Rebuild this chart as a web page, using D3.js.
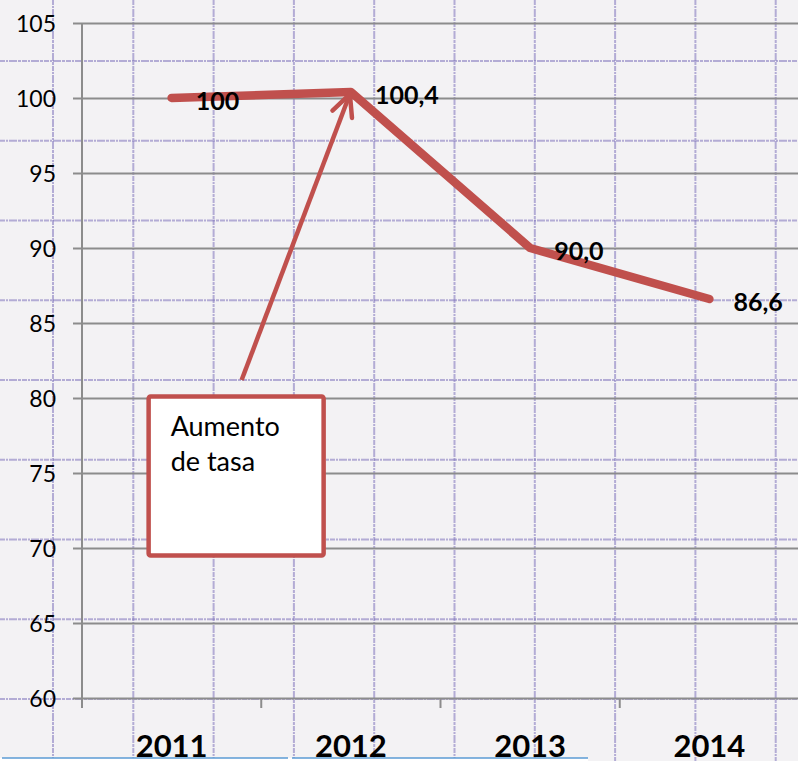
<!DOCTYPE html>
<html><head><meta charset="utf-8">
<script src="https://cdn.jsdelivr.net/npm/d3@7"></script>
<style>html,body{margin:0;padding:0;background:#f3f2f4;}svg{display:block;}</style>
</head><body>
<svg id="c" width="798" height="761"></svg>
<script>
const categories = ["2011", "2012", "2013", "2014"];
const values = [100, 100.4, 90.0, 86.6];
const valueLabels = ["100", "100,4", "90,0", "86,6"];
const yTicks = [60, 65, 70, 75, 80, 85, 90, 95, 100, 105];
const annotationText = ["Aumento", "de tasa"];

(function () {
const W = 798, H = 761;
const svg = d3.select("#c");
const red = "#c0504d";

// background graph-paper texture
svg.append("rect").attr("width", W).attr("height", H).attr("fill", "#f3f2f4");
const paper = svg.append("g").attr("stroke", "#7d72bb").attr("stroke-opacity", 0.55)
  .attr("stroke-width", 2).attr("stroke-dasharray", "5 1 2 1 8 1 3 1");
d3.range(0, 10).forEach(i => {
  const xx = 53 + 80.3 * i;
  paper.append("line").attr("x1", xx).attr("x2", xx).attr("y1", 0).attr("y2", H);
});
d3.range(0, 9).forEach(j => {
  const yy = 61 + 79.75 * j;
  paper.append("line").attr("y1", yy).attr("y2", yy).attr("x1", 0).attr("x2", W);
});

const mLeft = 82, mRight = 799, mTop = 23, mBottom = 698;
const x = d3.scaleBand().domain(categories).range([mLeft, mRight]).padding(0);
const y = d3.scaleLinear().domain([60, 105]).range([mBottom, mTop]);
const xc = c => x(c) + x.bandwidth() / 2;

// gridlines + y axis
const yAxis = d3.axisLeft(y).tickValues(yTicks).tickSize(-(W - mLeft)).tickSizeOuter(0).tickPadding(17);
const gy = svg.append("g").attr("transform", `translate(${mLeft},0)`).call(yAxis);
gy.select(".domain").remove();
gy.selectAll(".tick line").attr("stroke", "#8c8c8c").attr("stroke-width", 2).attr("x1", -9);
gy.selectAll(".tick text").attr("font-family", "Lato, 'Open Sans', sans-serif")
  .attr("font-size", 23).attr("fill", "#000").attr("x", -26).attr("dy", "0.36em");
svg.append("line").attr("x1", mLeft).attr("x2", mLeft).attr("y1", mTop).attr("y2", mBottom + 10)
  .attr("stroke", "#8c8c8c").attr("stroke-width", 2);

// x axis ticks at band boundaries
const gx = svg.append("g");
categories.forEach(c => {
  gx.append("line").attr("x1", x(c)).attr("x2", x(c)).attr("y1", mBottom).attr("y2", mBottom + 10)
    .attr("stroke", "#8c8c8c").attr("stroke-width", 2);
});
gx.selectAll("text.xl").data(categories).join("text").attr("class", "xl")
  .attr("x", d => xc(d)).attr("y", 757).attr("text-anchor", "middle")
  .attr("font-family", "Lato, 'Open Sans', sans-serif").attr("font-weight", "bold")
  .attr("font-size", 31).attr("fill", "#000").text(d => d);

// data line
const pts = categories.map((c, i) => [xc(c), y(values[i])]);
svg.append("path").attr("d", d3.line()(pts)).attr("fill", "none").attr("stroke", red)
  .attr("stroke-width", 8.5).attr("stroke-linecap", "round").attr("stroke-linejoin", "round");

// data labels
svg.selectAll("text.vl").data(categories).join("text").attr("class", "vl")
  .attr("x", d => xc(d) + 24).attr("y", (d, i) => y(values[i]) + 3).attr("dy", "0.36em")
  .attr("font-family", "Lato, 'Open Sans', sans-serif").attr("font-weight", "bold")
  .attr("font-size", 25).attr("fill", "#000").text((d, i) => valueLabels[i]);

// annotation arrow
const tip = [xc("2012") - 1, y(values[1]) + 2];
const tail = [xc("2011") + 70, y(81.2)];
const ang = Math.atan2(tail[1] - tip[1], tail[0] - tip[0]);
const wl = 24, wa = 0.45;
svg.append("line").attr("x1", tail[0]).attr("y1", tail[1]).attr("x2", tip[0]).attr("y2", tip[1])
  .attr("stroke", red).attr("stroke-width", 4.5).attr("stroke-linecap", "butt");
svg.append("path").attr("d", d3.line()([
  [tip[0] + wl * Math.cos(ang - wa), tip[1] + wl * Math.sin(ang - wa)],
  tip,
  [tip[0] + wl * Math.cos(ang + wa), tip[1] + wl * Math.sin(ang + wa)]
])).attr("fill", "none").attr("stroke", red).attr("stroke-width", 4.5)
  .attr("stroke-linecap", "round").attr("stroke-linejoin", "miter");

// annotation box
const bx0 = xc("2011") - 23, bx1 = xc("2011") + 152, by0 = y(80.1), by1 = y(69.5);
svg.append("rect").attr("x", bx0).attr("y", by0).attr("width", bx1 - bx0).attr("height", by1 - by0)
  .attr("rx", 2).attr("fill", "#fff").attr("stroke", red).attr("stroke-width", 4.5);
svg.append("g").selectAll("text").data(annotationText).join("text")
  .attr("x", bx0 + 22).attr("y", (d, i) => by0 + 39 + i * 35)
  .attr("font-family", "Lato, 'Open Sans', sans-serif").attr("font-size", 27).attr("fill", "#000")
  .text(d => d);

// bottom page strip
svg.append("rect").attr("x", 0).attr("y", 758).attr("width", 588).attr("height", 3).attr("fill", "#fff");
[[2, 288], [292, 588]].forEach(s => {
  svg.append("line").attr("x1", s[0]).attr("x2", s[1]).attr("y1", 758).attr("y2", 758)
    .attr("stroke", "#5b9bd5").attr("stroke-width", 1.5);
});
})();
</script>
</body></html>
